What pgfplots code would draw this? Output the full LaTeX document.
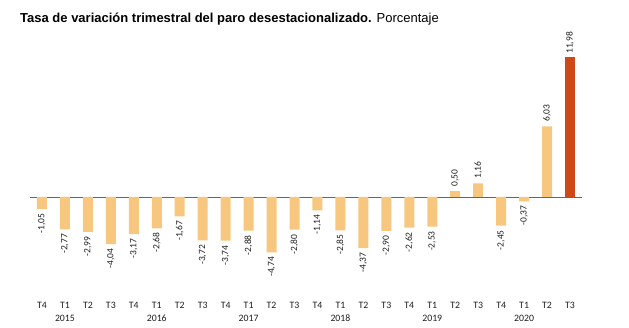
\documentclass[border=0pt]{standalone}
\usepackage{pgfplots}
\pgfplotsset{compat=1.18}
\usepackage{fontspec}
\setmainfont{Carlito}
\newfontfamily\arial{Liberation Sans}
\definecolor{lightbar}{RGB}{247,199,127}
\definecolor{darkbar}{RGB}{210,71,22}
\definecolor{txt}{RGB}{30,30,30}
\begin{document}
\begin{tikzpicture}[x=1pt,y=1pt]
\begin{axis}[
  name=ax,
  scale only axis, width=551pt, height=243.2pt,
  xmin=-0.5, xmax=23.5, ymin=-8.3, ymax=12.5,
  clip=false,
  axis line style={draw=none},
  major tick length=0pt,
  ytick=\empty,
  extra y ticks={0}, extra y tick labels={},
  extra y tick style={grid=major, major grid style={draw=gray!80!black, line width=0.8pt}},
  xtick={0,...,23},
  xticklabels={T4,{T1\\2015},T2,T3,T4,{T1\\2016},T2,T3,T4,{T1\\2017},T2,T3,T4,{T1\\2018},T2,T3,T4,{T1\\2019},T2,T3,T4,{T1\\2020},T2,T3},
  xticklabel style={align=center, font=\fontsize{9.8}{13}\selectfont, text=txt, inner sep=2pt, yshift=-6pt},
  ybar, bar width=10pt, bar shift=0pt,
  /pgf/number format/.cd, fixed, fixed zerofill, precision=2, use comma, assume math mode=true,
]
\addplot[draw=none, fill=lightbar,
  nodes near coords,
  every node near coord/.append style={rotate=90, anchor=east, inner xsep=4.5pt, inner ysep=1pt, font=\fontsize{9.5}{11}\selectfont, text=txt}]
 coordinates {(0,-1.05) (1,-2.77) (2,-2.99) (3,-4.04) (4,-3.17) (5,-2.68) (6,-1.67) (7,-3.72) (8,-3.74) (9,-2.88) (10,-4.74) (11,-2.80) (12,-1.14) (13,-2.85) (14,-4.37) (15,-2.90) (16,-2.62) (17,-2.53) (20,-2.45) (21,-0.37)};
\addplot[draw=none, fill=lightbar,
  nodes near coords,
  every node near coord/.append style={rotate=90, anchor=west, inner xsep=4.5pt, inner ysep=1pt, font=\fontsize{9.5}{11}\selectfont, text=txt}]
 coordinates {(18,0.50) (19,1.16) (22,6.03)};
\addplot[draw=none, fill=darkbar,
  nodes near coords,
  every node near coord/.append style={rotate=90, anchor=west, inner xsep=3pt, inner ysep=1pt, font=\fontsize{9.5}{11}\selectfont, text=txt}]
 coordinates {(23,11.98)};
\end{axis}
\pgfresetboundingbox
\coordinate (O) at ([shift={(-30.5,-33)}]ax.south west);
\useasboundingbox (O) rectangle ([shift={(629,327)}]O);
\node[anchor=base west, inner sep=0, font=\arial\fontsize{13}{15}\selectfont] at ([shift={(20,304.4)}]O) {\textbf{Tasa de variación trimestral del paro desestacionalizado.} Porcentaje};
\end{tikzpicture}
\end{document}
